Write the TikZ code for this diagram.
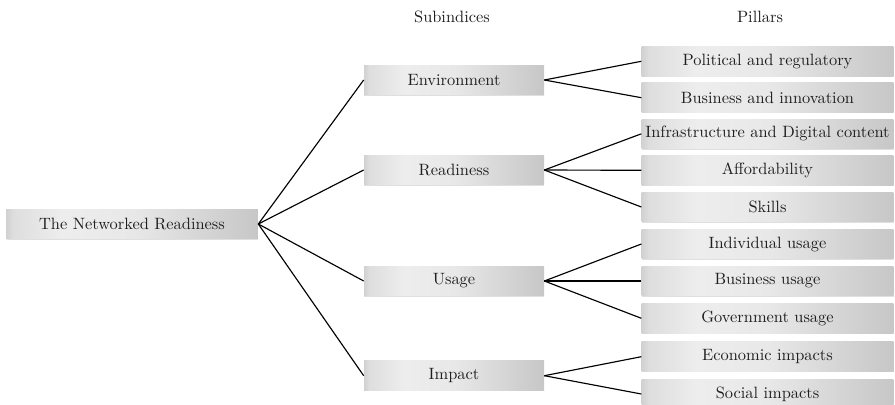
\documentclass[tikz,border=0pt]{standalone}
\usetikzlibrary{shadows}
\pgfdeclarehorizontalshading{boxshade}{100bp}{color(0bp)=(gray!36); color(25bp)=(gray!36); color(26.5bp)=(gray!26); color(36bp)=(gray!14); color(50bp)=(gray!18); color(75bp)=(gray!44); color(100bp)=(gray!44)}
\begin{document}
\begin{tikzpicture}[x=0.61pt,y=-0.61pt,
  box/.style={rectangle, shading=boxshade, inner sep=0pt, minimum height=18pt,
    text=black!88, font=\normalsize,
    drop shadow={shadow xshift=0.3pt, shadow yshift=-0.6pt, opacity=0.25}},
  rootbox/.style={box, minimum width=153.7pt},
  subbox/.style={box, minimum width=109.8pt},
  pillbox/.style={box, minimum width=153.5pt},
  conn/.style={line width=0.7pt, black},
  head/.style={inner sep=0pt, text=black!88}]
\useasboundingbox (0,0) rectangle (895,404);

\node[head] (h1) at (452,17) {Subindices};
\node[head] (h2) at (760,17) {Pillars};

\node[rootbox] (root) at (132,224) {The Networked Readiness};

\node[subbox] (env) at (454,80) {Environment};
\node[subbox] (rea) at (454,170) {Readiness};
\node[subbox] (usa) at (454,281) {Usage};
\node[subbox] (imp) at (454,375.7) {Impact};

\node[pillbox] (p1) at (767.5,61.3) {Political and regulatory};
\node[pillbox] (p2) at (767.5,97.7) {Business and innovation};
\node[pillbox] (p3) at (767.5,133.8) {Infrastructure and Digital content};
\node[pillbox] (p4) at (767.5,170.3) {Affordability};
\node[pillbox] (p5) at (767.5,207) {Skills};
\node[pillbox] (p6) at (767.5,244) {Individual usage};
\node[pillbox] (p7) at (767.5,281) {Business usage};
\node[pillbox] (p8) at (767.5,318.3) {Government usage};
\node[pillbox] (p9) at (767.5,356.7) {Economic impacts};
\node[pillbox] (p10) at (767.5,394) {Social impacts};

\foreach \s in {env,rea,usa,imp} \draw[conn] (root.east) -- (\s.west);
\foreach \p in {p1,p2} \draw[conn] (env.east) -- (\p.west);
\foreach \p in {p3,p4,p5} \draw[conn] (rea.east) -- (\p.west);
\foreach \p in {p6,p7,p8} \draw[conn] (usa.east) -- (\p.west);
\foreach \p in {p9,p10} \draw[conn] (imp.east) -- (\p.west);
\end{tikzpicture}
\end{document}
